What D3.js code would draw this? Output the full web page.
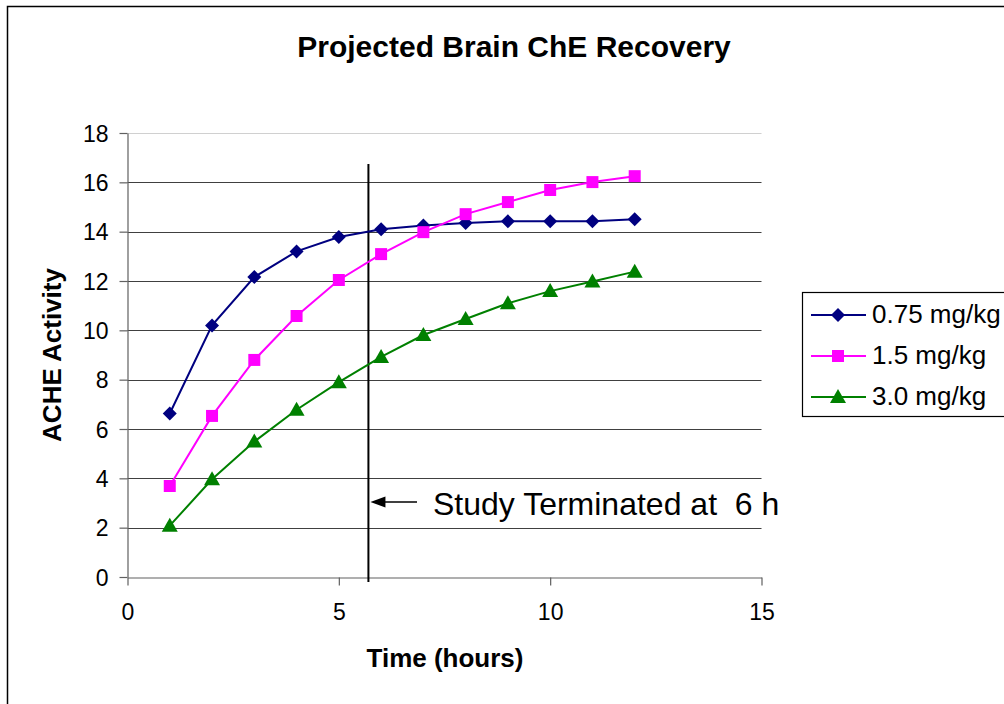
<!DOCTYPE html>
<html>
<head>
<meta charset="utf-8">
<script src="https://cdnjs.cloudflare.com/ajax/libs/d3/7.8.5/d3.min.js"></script>
<style>
  body { margin: 0; background: #fff; }
  text { font-family: "Liberation Sans", Arial, sans-serif; fill: #000; white-space: pre; }
</style>
</head>
<body>
<script>
// data
var hours = [1, 2, 3, 4, 5, 6, 7, 8, 9, 10, 11, 12];
var dose075 = [6.63, 10.2, 12.16, 13.2, 13.78, 14.1, 14.25, 14.35, 14.42, 14.42, 14.42, 14.5];
var dose15 = [3.69, 6.53, 8.8, 10.58, 12.04, 13.09, 13.98, 14.71, 15.2, 15.69, 16.01, 16.25];
var dose30 = [2.08, 3.96, 5.49, 6.78, 7.9, 8.92, 9.81, 10.46, 11.1, 11.59, 11.98, 12.38];
var seriesNames = ["0.75 mg/kg", "1.5 mg/kg", "3.0 mg/kg"];
var xTicks = [0, 5, 10, 15];
var yTicks = [0, 2, 4, 6, 8, 10, 12, 14, 16, 18];
var studyEnd = 5.7;

var colors = ["#000080", "#ff00ff", "#008000"];
// marker shapes: diamond, square, triangle
var markers = [
  "M0,-7L7,0L0,7L-7,0Z",
  "M-6,-6L6,-6L6,6L-6,6Z",
  "M0,-8L8,6L-8,6Z"
];

var W = 1004, H = 704;
var svg = d3.select("body").append("svg")
  .attr("width", W)
  .attr("height", H);

// outer chart border (runs off right & bottom)
svg.append("rect")
  .attr("x", 7.5).attr("y", 6.5)
  .attr("width", 1100).attr("height", 800)
  .attr("fill", "none").attr("stroke", "#000").attr("stroke-width", 1.5);

var x = d3.scaleLinear().domain([0, 15]).range([127.5, 761.5]);
var y = d3.scaleLinear().domain([0, 18]).range([577, 133]);

// gridlines
svg.append("g").selectAll("line")
  .data(yTicks.filter(function(d){ return d > 0; }))
  .enter().append("line")
  .attr("x1", x(0)).attr("x2", x(15))
  .attr("y1", function(d){ return Math.round(y(d)) + 0.5; })
  .attr("y2", function(d){ return Math.round(y(d)) + 0.5; })
  .attr("stroke", function(d){ return d === 18 ? "#d0d0d0" : "#404040"; })
  .attr("stroke-width", 1.2);

// axes
var xAxis = svg.append("g")
  .attr("transform", "translate(0," + (Math.round(y(0)) + 0.5) + ")")
  .call(d3.axisBottom(x).tickValues(xTicks).tickSize(8).tickSizeOuter(0).tickPadding(18));
var yAxis = svg.append("g")
  .attr("transform", "translate(" + x(0) + ",0)")
  .call(d3.axisLeft(y).tickValues(yTicks).tickSize(8).tickSizeOuter(0).tickPadding(11));

[xAxis, yAxis].forEach(function(a){
  a.selectAll("path, line").attr("stroke", "#606060").attr("stroke-width", 1.2);
  a.selectAll("text").style("font-size", "23px").attr("fill", "#000");
});
yAxis.selectAll("text").attr("dy", "0.36em");

// study end marker
svg.append("line")
  .attr("x1", x(studyEnd)).attr("x2", x(studyEnd))
  .attr("y1", 164).attr("y2", 582)
  .attr("stroke", "#000").attr("stroke-width", 2);

// series
var allSeries = [dose075, dose15, dose30];
var line = d3.line()
  .x(function(d, i){ return x(hours[i]); })
  .y(function(d){ return y(d); });

allSeries.forEach(function(vals, k){
  svg.append("path")
    .datum(vals)
    .attr("d", line)
    .attr("fill", "none")
    .attr("stroke", colors[k])
    .attr("stroke-width", 2);

  svg.append("g").selectAll("path")
    .data(vals)
    .enter().append("path")
    .attr("d", markers[k])
    .attr("transform", function(d, i){ return "translate(" + x(hours[i]) + "," + y(d) + ")"; })
    .attr("fill", colors[k]);
});

// annotation
var ay = 502;
svg.append("line")
  .attr("x1", x(studyEnd) + 12).attr("x2", 417)
  .attr("y1", ay).attr("y2", ay)
  .attr("stroke", "#000").attr("stroke-width", 1.5);
svg.append("path")
  .attr("d", "M" + (x(studyEnd) + 2) + "," + ay + "l15,-5.5l0,11z")
  .attr("fill", "#000");
svg.append("text")
  .attr("x", 433).attr("y", 515)
  .style("font-size", "32px")
  .text("Study Terminated at  6 h");

// titles
svg.append("text")
  .attr("x", 514).attr("y", 57)
  .attr("text-anchor", "middle")
  .style("font-size", "30px").style("font-weight", "bold")
  .text("Projected Brain ChE Recovery");

svg.append("text")
  .attr("x", 445).attr("y", 667)
  .attr("text-anchor", "middle")
  .style("font-size", "26px").style("font-weight", "bold")
  .text("Time (hours)");

svg.append("text")
  .attr("transform", "translate(61,355) rotate(-90)")
  .attr("text-anchor", "middle")
  .style("font-size", "26px").style("font-weight", "bold")
  .text("ACHE Activity");

// legend
var legend = svg.append("g");
legend.append("rect")
  .attr("x", 802.5).attr("y", 292.5)
  .attr("width", 260).attr("height", 124)
  .attr("fill", "#fff").attr("stroke", "#000").attr("stroke-width", 1.2);

var rowY = [315, 356, 397];
var item = legend.selectAll("g.item")
  .data(seriesNames)
  .enter().append("g")
  .attr("class", "item")
  .attr("transform", function(d, i){ return "translate(0," + rowY[i] + ")"; });

item.append("line")
  .attr("x1", 811).attr("x2", 866)
  .attr("stroke", function(d, i){ return colors[i]; })
  .attr("stroke-width", 2);
item.append("path")
  .attr("d", function(d, i){ return markers[i]; })
  .attr("transform", "translate(838,0)")
  .attr("fill", function(d, i){ return colors[i]; });
item.append("text")
  .attr("x", 872).attr("y", 8)
  .style("font-size", "26px")
  .text(function(d){ return d; });
</script>
</body>
</html>
